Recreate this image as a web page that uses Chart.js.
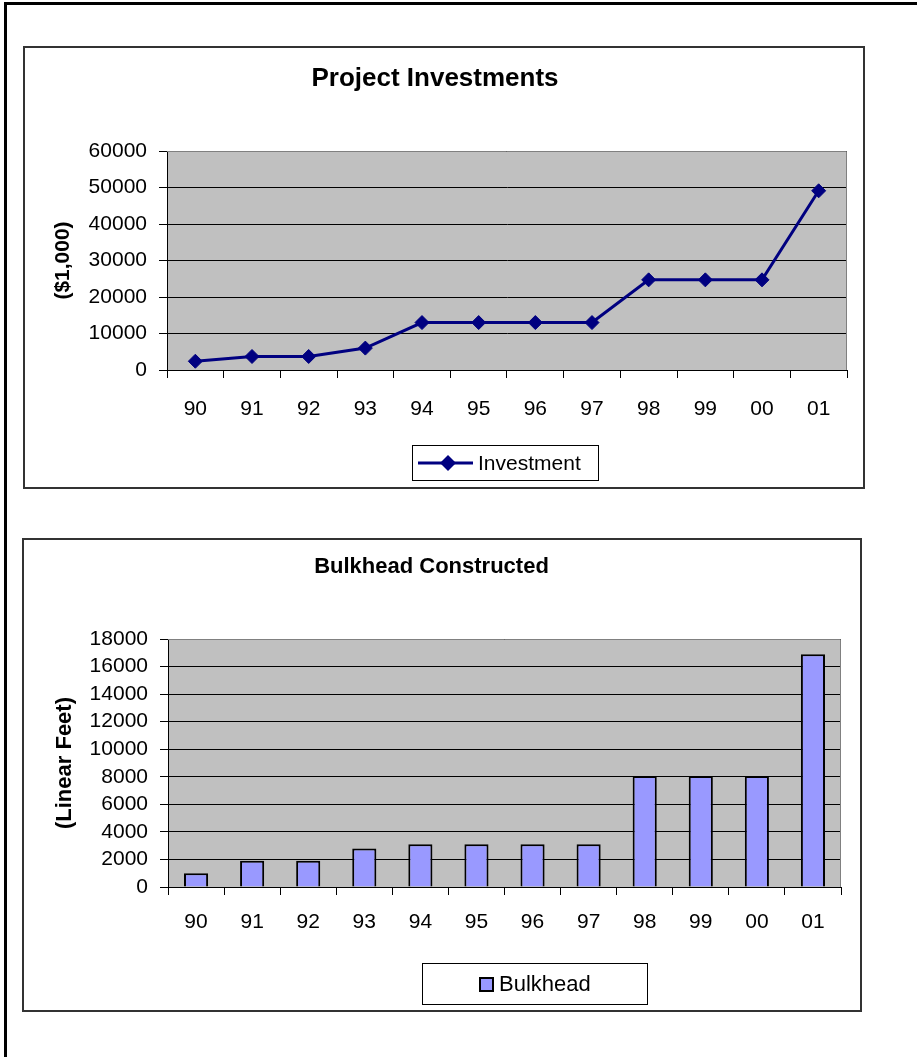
<!DOCTYPE html>
<html>
<head>
<meta charset="utf-8">
<title>Project Investments / Bulkhead Constructed</title>
<script src="https://cdn.jsdelivr.net/npm/chart.js@4.4.1/dist/chart.umd.min.js"></script>
<style>
    html, body { margin: 0; background: #fff; }
    #frame { position: absolute; left: 4px; top: 2px; right: 0; bottom: 0; border-top: 3px solid #000; border-left: 3px solid #000; }
    .box { position: absolute; box-sizing: border-box; border: 2px solid #333; pointer-events: none; }
    canvas { position: absolute; }
</style>
</head>
<body>
<div id="frame"></div>

<canvas id="invChart" width="842" height="443" style="left:23px;top:46px"></canvas>
<div class="box" style="left:23px;top:46px;width:842px;height:443px"></div>

<canvas id="bulkChart" width="840" height="474" style="left:22px;top:538px"></canvas>
<div class="box" style="left:22px;top:538px;width:840px;height:474px"></div>

<script>
const FONT = '"Liberation Sans", Arial, sans-serif';

// Năm (trục X)
const years = ['90', '91', '92', '93', '94', '95', '96', '97', '98', '99', '00', '01'];

// Vốn đầu tư ($1,000)
const investment = [2400, 3700, 3700, 6000, 13000, 13000, 13000, 13000, 24700, 24700, 24700, 49100];
const investTicks = [0, 10000, 20000, 30000, 40000, 50000, 60000];

// Chiều dài kè (feet)
const bulkhead = [1000, 1900, 1900, 2800, 3100, 3100, 3100, 3100, 8050, 8050, 8050, 16900];
const bulkTicks = [0, 2000, 4000, 6000, 8000, 10000, 12000, 14000, 16000, 18000];

// Nền xám của vùng vẽ + viền trên/phải
const plotBackground = {
    id: 'plotBackground',
    beforeDraw(chart) {
        const { ctx, chartArea: a } = chart;
        ctx.save();
        ctx.fillStyle = '#c0c0c0';
        ctx.fillRect(a.left, a.top, a.width, a.height);
        ctx.restore();
    },
    beforeDatasetsDraw(chart) {
        const { ctx, chartArea: a } = chart;
        ctx.save();
        ctx.strokeStyle = '#808080';
        ctx.lineWidth = 1;
        ctx.beginPath();
        ctx.moveTo(a.left, a.top + 0.5);
        ctx.lineTo(a.right - 0.5, a.top + 0.5);
        ctx.lineTo(a.right - 0.5, a.bottom);
        ctx.stroke();
        ctx.restore();
    }
};

// Chú thích có khung, đặt dưới trục X
const boxLegend = {
    id: 'boxLegend',
    afterDraw(chart, args, opts) {
        const { ctx, chartArea: a } = chart;
        const ds = chart.data.datasets[0];
        const x = (a.left + a.right) / 2 + opts.dx - opts.width / 2;
        const y = a.bottom + opts.dy;
        const cy = y + opts.height / 2;

        ctx.save();
        ctx.fillStyle = '#fff';
        ctx.fillRect(x, y, opts.width, opts.height);
        ctx.strokeStyle = '#000';
        ctx.lineWidth = 1;
        ctx.strokeRect(x + 0.5, y + 0.5, opts.width - 1, opts.height - 1);

        if (chart.config.type === 'line') {
            ctx.strokeStyle = ds.borderColor;
            ctx.lineWidth = ds.borderWidth;
            ctx.beginPath();
            ctx.moveTo(x + 6, cy);
            ctx.lineTo(x + 61, cy);
            ctx.stroke();
            const r = ds.pointRadius + 1;
            ctx.fillStyle = ds.pointBackgroundColor;
            ctx.beginPath();
            ctx.moveTo(x + 36, cy - r);
            ctx.lineTo(x + 36 + r, cy);
            ctx.lineTo(x + 36, cy + r);
            ctx.lineTo(x + 36 - r, cy);
            ctx.closePath();
            ctx.fill();
        } else {
            ctx.fillStyle = ds.backgroundColor;
            ctx.fillRect(x + 57, cy - 7, 15, 15);
            ctx.strokeStyle = ds.borderColor;
            ctx.lineWidth = 2;
            ctx.strokeRect(x + 58, cy - 6, 13, 13);
        }

        ctx.fillStyle = '#000';
        ctx.font = opts.fontSize + 'px ' + FONT;
        ctx.textBaseline = 'middle';
        ctx.fillText(ds.label, x + opts.textX, cy + 1);
        ctx.restore();
    }
};

function axisX(padding) {
    return {
        offset: true,
        grid: { offset: true, drawOnChartArea: false, color: '#000', tickLength: 8 },
        border: { color: '#000', width: 1 },
        ticks: { color: '#000', font: { family: FONT, size: 21 }, padding: padding, maxRotation: 0, autoSkip: false },
        afterFit: s => { s.height = 60; }
    };
}

function axisY(max, tickValues, title, titleSize, titlePad, width) {
    return {
        min: 0,
        max: max,
        afterBuildTicks: s => { s.ticks = tickValues.map(v => ({ value: v })); },
        grid: { color: '#000', tickLength: 8 },
        border: { color: '#000', width: 1 },
        ticks: { color: '#000', font: { family: FONT, size: 21 }, padding: 12, autoSkip: false, callback: v => String(v) },
        title: { display: true, text: title, color: '#000', font: { family: FONT, size: titleSize, weight: 'bold' }, padding: { top: titlePad, bottom: 0 } },
        afterFit: s => { s.width = width; }
    };
}

// 1. Biểu đồ đường: vốn đầu tư
new Chart(document.getElementById('invChart'), {
    type: 'line',
    data: {
        labels: years,
        datasets: [{
            label: 'Investment',
            data: investment,
            borderColor: '#000080',
            backgroundColor: '#000080',
            borderWidth: 3,
            pointStyle: 'rectRot',
            pointRadius: 7,
            pointBorderWidth: 1,
            pointBackgroundColor: '#000080',
            pointBorderColor: '#000080',
            tension: 0
        }]
    },
    options: {
        responsive: false,
        animation: false,
        devicePixelRatio: 1,
        layout: { padding: { left: 0, right: 18, top: 0, bottom: 59 } },
        plugins: {
            legend: { display: false },
            tooltip: { enabled: false },
            title: {
                display: true, text: 'Project Investments', color: '#000',
                font: { family: FONT, size: 26, weight: 'bold' },
                padding: { top: 17.4, bottom: 56.4 }
            },
            boxLegend: { dx: -1.5, dy: 75, width: 187, height: 36, textX: 66, fontSize: 21 }
        },
        scales: {
            x: axisX(19),
            y: axisY(60000, investTicks, '($1,000)', 21, 27.4, 144)
        }
    },
    plugins: [plotBackground, boxLegend]
});

// 2. Biểu đồ cột: kè đã xây
new Chart(document.getElementById('bulkChart'), {
    type: 'bar',
    data: {
        labels: years,
        datasets: [{
            label: 'Bulkhead',
            data: bulkhead,
            backgroundColor: '#9999ff',
            borderColor: '#000',
            borderWidth: 2,
            barPercentage: 0.43,
            categoryPercentage: 1
        }]
    },
    options: {
        responsive: false,
        animation: false,
        devicePixelRatio: 1,
        layout: { padding: { left: 0, right: 21, top: 0, bottom: 65 } },
        plugins: {
            legend: { display: false },
            tooltip: { enabled: false },
            title: {
                display: true, text: 'Bulkhead Constructed', color: '#000',
                font: { family: FONT, size: 22, weight: 'bold' },
                padding: { top: 15.8, bottom: 58.8 }
            },
            boxLegend: { dx: 30.5, dy: 76, width: 226, height: 42, textX: 77, fontSize: 22 }
        },
        scales: {
            x: axisX(15),
            y: axisY(18000, bulkTicks, '(Linear Feet)', 22, 29.8, 146)
        }
    },
    plugins: [plotBackground, boxLegend]
});
</script>
</body>
</html>
